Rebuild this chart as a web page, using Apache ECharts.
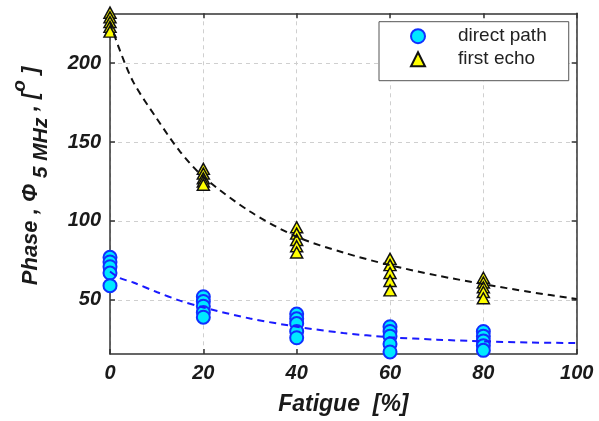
<!DOCTYPE html>
<html>
<head>
<meta charset="utf-8">
<script src="https://cdn.jsdelivr.net/npm/echarts@6/dist/echarts.min.js"></script>
<style>
  html, body { margin: 0; padding: 0; background: #fff; }
  #chart { width: 599px; height: 421px; }
</style>
</head>
<body>
<div id="chart"></div>
<script>
// Fatigue levels at which the phase was measured [%]
const fatigue = [0, 20, 40, 60, 80];

// Measured phase at 5 MHz [deg], one group of repeats per fatigue level
const directPath = [
  [77, 74, 71, 67, 59],
  [52, 49, 46, 42, 39],
  [41, 38, 35, 30, 26],
  [33, 30, 27, 22, 17],
  [30, 27, 24, 21, 18]
];
const firstEcho = [
  [232, 229, 226, 223, 220],
  [133, 130, 127, 125, 123],
  [96, 92, 88, 84, 80],
  [76, 72, 67, 62, 56],
  [64, 61, 58, 55, 51]
];

// Fitted trend curves
const fitX = [0, 2, 5, 10, 15, 20, 30, 40, 50, 60, 70, 80, 90, 100];
const directFit = [68, 64, 61, 55, 49.5, 45.2, 38.2, 33, 29, 26.3, 24.8, 23.7, 23, 22.6];
const echoFit = [226, 209, 188, 165, 144, 128, 106, 90, 80, 72, 65.5, 60, 55, 50.5];

// Axis ticks
const xTickStep = 20;
const yTicks = [50, 100, 150, 200];

const FONT = '"Liberation Sans", Arial, sans-serif';

function toPairs(xs, groups) {
  const out = [];
  xs.forEach((x, i) => groups[i].forEach(v => out.push([x, v])));
  return out;
}
function zipXY(xs, ys) {
  return xs.map((x, i) => [x, ys[i]]);
}

const axisLine = { show: true, onZero: false, lineStyle: { color: '#333', width: 1.5 } };
const gridLine = { show: true, lineStyle: { color: '#cfcfcf', width: 1, type: [4, 4] } };
const tickLabel = {
  fontFamily: FONT, fontSize: 20, fontWeight: 'bold', fontStyle: 'italic', color: '#1a1a1a'
};
const titleFont = { fontFamily: FONT, fontWeight: 'bold', fontStyle: 'italic', fill: '#1a1a1a' };

const chart = echarts.init(document.getElementById('chart'), null, { renderer: 'canvas' });

chart.setOption({
  animation: false,
  backgroundColor: '#fff',
  grid: { left: 110, right: 22.3, top: 13.3, bottom: 66 },
  legend: {
    data: ['direct path', 'first echo'],
    orient: 'vertical',
    left: 379,
    top: 21.7,
    padding: [5, 22, 12, 31],
    itemGap: 4,
    itemWidth: 14,
    itemHeight: 14,
    backgroundColor: '#fff',
    borderColor: '#555',
    borderWidth: 1,
    borderRadius: 0,
    textStyle: { fontFamily: FONT, fontSize: 19, color: '#222', padding: [0, 0, 0, 28] }
  },
  // y-axis title with subscript and superscript parts
  graphic: [
    {
      type: 'text',
      x: 31,
      y: 176,
      rotation: Math.PI / 2,
      style: {
        text: '{m|Phase , Φ}{s| 5 MHz}{m| , [}{u|o}{m| ]}',
        align: 'center',
        verticalAlign: 'middle',
        rich: {
          m: Object.assign({ fontSize: 22, lineHeight: 42, verticalAlign: 'middle' }, titleFont),
          s: Object.assign({ fontSize: 21, lineHeight: 42, verticalAlign: 'bottom' }, titleFont),
          u: Object.assign({ fontSize: 19, lineHeight: 42, verticalAlign: 'top' }, titleFont)
        }
      }
    }
  ],
  xAxis: [
    {
      type: 'value', min: 0, max: 100, interval: xTickStep, position: 'bottom',
      axisLine: axisLine,
      axisTick: { show: true, inside: true, length: 5, lineStyle: { color: '#333', width: 1.5 } },
      axisLabel: Object.assign({ margin: 9 }, tickLabel),
      splitLine: gridLine,
      name: 'Fatigue  [%]',
      nameLocation: 'middle',
      nameGap: 39,
      nameTextStyle: { fontFamily: FONT, fontSize: 23, fontWeight: 'bold', fontStyle: 'italic', color: '#1a1a1a' }
    },
    {
      type: 'value', min: 0, max: 100, interval: xTickStep, position: 'top',
      axisLine: axisLine,
      axisTick: { show: true, inside: true, length: 5, lineStyle: { color: '#333', width: 1.5 } },
      axisLabel: { show: false },
      splitLine: { show: false }
    }
  ],
  yAxis: [
    {
      type: 'value', min: 15.7, max: 231.6, position: 'left',
      axisLine: axisLine,
      axisTick: { show: true, inside: true, length: 5, customValues: yTicks, lineStyle: { color: '#333', width: 1.5 } },
      axisLabel: Object.assign({ margin: 9, customValues: yTicks }, tickLabel),
      splitLine: gridLine
    },
    {
      type: 'value', min: 15.7, max: 231.6, position: 'right',
      axisLine: axisLine,
      axisTick: { show: true, inside: true, length: 5, customValues: yTicks, lineStyle: { color: '#333', width: 1.5 } },
      axisLabel: { show: false },
      splitLine: { show: false }
    }
  ],
  series: [
    {
      name: 'direct path',
      type: 'scatter',
      clip: false,
      symbol: 'circle',
      symbolSize: 13,
      itemStyle: { color: '#00e8ff', borderColor: '#1030ff', borderWidth: 2, opacity: 1 },
      data: toPairs(fatigue, directPath),
      z: 3
    },
    {
      name: 'first echo',
      type: 'scatter',
      clip: false,
      symbol: 'triangle',
      symbolSize: [12, 11],
      itemStyle: { color: '#ffff00', borderColor: '#111', borderWidth: 1.5, opacity: 1 },
      data: toPairs(fatigue, firstEcho),
      z: 3
    },
    {
      name: 'direct fit',
      type: 'line',
      smooth: 0.3,
      showSymbol: false,
      symbol: 'none',
      lineStyle: { color: '#1a1aff', width: 2, type: [7, 5] },
      data: zipXY(fitX, directFit),
      z: 4
    },
    {
      name: 'echo fit',
      type: 'line',
      smooth: 0.3,
      showSymbol: false,
      symbol: 'none',
      lineStyle: { color: '#111', width: 2, type: [7, 5] },
      data: zipXY(fitX, echoFit),
      z: 4
    }
  ]
});
</script>
</body>
</html>
